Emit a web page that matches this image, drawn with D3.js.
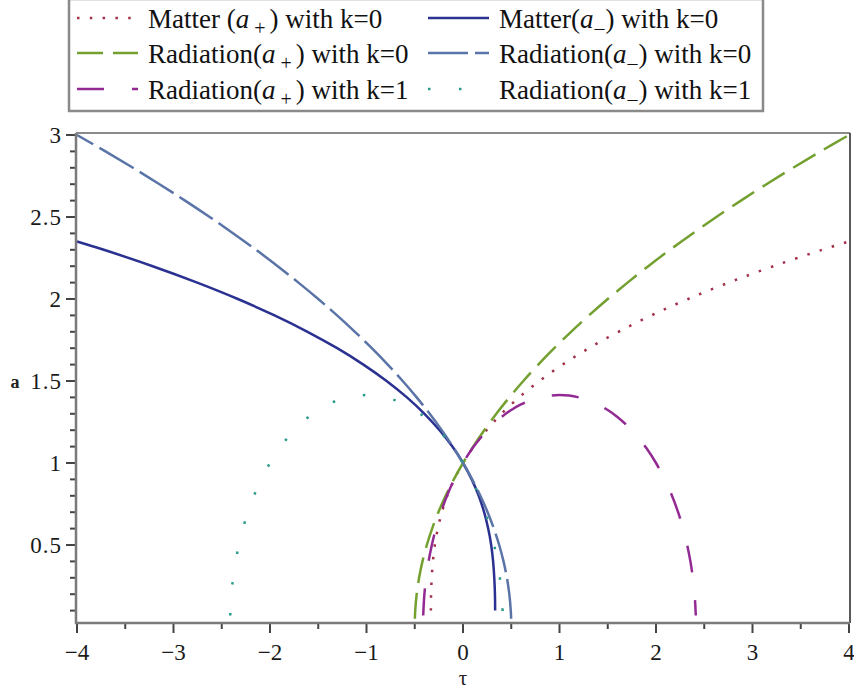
<!DOCTYPE html>
<html lang="en">
<head>
<meta charset="UTF-8">
<title>scale factor a(tau)</title>
<style>
  body { margin: 0; background: #fff; }
  svg { font-family: "Liberation Serif", "DejaVu Serif", serif; }
</style>
</head>
<body>
<svg width="854" height="693"></svg>
<script src="https://d3js.org/d3.v7.min.js"></script>
<script>
// points: [tau, a]
var matterPlus = [[-0.333,0.1],[-0.331,0.2],[-0.324,0.3],[-0.312,0.4],[-0.292,0.5],[-0.261,0.6],[-0.219,0.7],
  [-0.163,0.8],[-0.090,0.9],[0,1],[0.110,1.1],[0.243,1.2],[0.399,1.3],[0.581,1.4],[0.792,1.5],[1.032,1.6],
  [1.304,1.7],[1.611,1.8],[1.953,1.9],[2.333,2.0],[2.754,2.1],[3.216,2.2],[3.722,2.3],[4.0,2.351]];
var matterMinus = [[0.333,0.1],[0.331,0.2],[0.324,0.3],[0.312,0.4],[0.292,0.5],[0.261,0.6],[0.219,0.7],
  [0.163,0.8],[0.090,0.9],[0,1],[-0.110,1.1],[-0.243,1.2],[-0.399,1.3],[-0.581,1.4],[-0.792,1.5],[-1.032,1.6],
  [-1.304,1.7],[-1.611,1.8],[-1.953,1.9],[-2.333,2.0],[-2.754,2.1],[-3.216,2.2],[-3.722,2.3],[-4.0,2.351]];
var radPlusK0 = [[-0.499,0.05],[-0.495,0.1],[-0.48,0.2],[-0.455,0.3],[-0.42,0.4],[-0.375,0.5],[-0.32,0.6],
  [-0.255,0.7],[-0.18,0.8],[-0.095,0.9],[0,1],[0.105,1.1],[0.22,1.2],[0.345,1.3],[0.48,1.4],[0.625,1.5],
  [0.78,1.6],[0.945,1.7],[1.12,1.8],[1.305,1.9],[1.5,2.0],[1.705,2.1],[1.92,2.2],[2.145,2.3],[2.38,2.4],
  [2.625,2.5],[2.88,2.6],[3.145,2.7],[3.42,2.8],[3.705,2.9],[4.0,3.0]];
var radMinusK0 = [[0.499,0.05],[0.495,0.1],[0.48,0.2],[0.455,0.3],[0.42,0.4],[0.375,0.5],[0.32,0.6],
  [0.255,0.7],[0.18,0.8],[0.095,0.9],[0,1],[-0.105,1.1],[-0.22,1.2],[-0.345,1.3],[-0.48,1.4],[-0.625,1.5],
  [-0.78,1.6],[-0.945,1.7],[-1.12,1.8],[-1.305,1.9],[-1.5,2.0],[-1.705,2.1],[-1.92,2.2],[-2.145,2.3],[-2.38,2.4],
  [-2.625,2.5],[-2.88,2.6],[-3.145,2.7],[-3.42,2.8],[-3.705,2.9],[-4.0,3.0]];
var radPlusK1 = [[-0.4125,0.07],[-0.4,0.2],[-0.382,0.3],[-0.3565,0.4],[-0.323,0.5],[-0.281,0.6],[-0.229,0.7],
  [-0.166,0.8],[-0.1,0.889],[0,1],[0.1,1.091],[0.2,1.166],[0.3,1.229],[0.4,1.281],[0.5,1.323],[0.6,1.357],
  [0.7,1.382],[0.8,1.4],[0.9,1.411],[1.0,1.414],[1.1,1.411],[1.2,1.4],[1.3,1.382],[1.4,1.357],[1.5,1.323],
  [1.6,1.281],[1.7,1.229],[1.8,1.166],[1.9,1.091],[2.0,1.0],[2.1,0.889],[2.166,0.8],[2.229,0.7],[2.281,0.6],
  [2.323,0.5],[2.3565,0.4],[2.382,0.3],[2.4,0.2],[2.4125,0.07]];
var radMinusK1 = [[-2.4125,0.07],[-2.4,0.2],[-2.382,0.3],[-2.3565,0.4],[-2.323,0.5],[-2.281,0.6],[-2.229,0.7],
  [-2.166,0.8],[-2.1,0.889],[-2.0,1.0],[-1.9,1.091],[-1.8,1.166],[-1.7,1.229],[-1.6,1.281],[-1.5,1.323],
  [-1.4,1.357],[-1.3,1.382],[-1.2,1.4],[-1.1,1.411],[-1.0,1.414],[-0.9,1.411],[-0.8,1.4],[-0.7,1.382],
  [-0.6,1.357],[-0.5,1.323],[-0.4,1.281],[-0.3,1.229],[-0.2,1.166],[-0.1,1.091],[0,1],[0.1,0.889],[0.166,0.8],
  [0.229,0.7],[0.281,0.6],[0.323,0.5],[0.3565,0.4],[0.382,0.3],[0.4,0.2],[0.4125,0.07]];

var xTicks = [-4,-3,-2,-1,0,1,2,3,4];
var yTicks = [0.5,1,1.5,2,2.5,3];

// series: data, legend text parts, colour, dash
var series = [
  {data: matterPlus,  pre: "Matter (", sign: "+", post: ") with k=0", color: "#a3304a", dash: "2.5 10.3", w: 2.5},
  {data: matterMinus, pre: "Matter(",  sign: "-", post: ") with k=0", color: "#2a3190", dash: null, w: 2.5},
  {data: radPlusK0,   pre: "Radiation(", sign: "+", post: ") with k=0", color: "#74a030", dash: "26 10", w: 2.5},
  {data: radMinusK0,  pre: "Radiation(", sign: "-", post: ") with k=0", color: "#5a74a8", dash: "40 7", w: 2.5},
  {data: radPlusK1,   pre: "Radiation(", sign: "+", post: ") with k=1", color: "#932a93", dash: "27 28", w: 2.5},
  {data: radMinusK1,  pre: "Radiation(", sign: "-", post: ") with k=1", color: "#2a9a8c", dash: "2.5 28.5", w: 2.5}
];

var svg = d3.select("svg");
var x = d3.scaleLinear().domain([-4,4]).range([77,849]);
var y = d3.scaleLinear().domain([0,3]).range([627,135]);
var plotTop = 133, plotBottom = 623, plotLeft = 76, plotRight = 850;

svg.append("clipPath").attr("id","clip")
  .append("rect").attr("x",plotLeft).attr("y",plotTop)
  .attr("width",plotRight-plotLeft).attr("height",plotBottom-plotTop);

// frame top / right
svg.append("line").attr("x1",plotLeft).attr("x2",plotRight).attr("y1",plotTop).attr("y2",plotTop)
  .attr("stroke","#8a8a8a").attr("stroke-width",2);
svg.append("line").attr("x1",plotRight).attr("x2",plotRight).attr("y1",plotTop).attr("y2",plotBottom)
  .attr("stroke","#222").attr("stroke-width",1.5);

// curves
var line = d3.line()
  .x(function(d){ return x(d[0]); })
  .y(function(d){ return y(d[1]); })
  .curve(d3.curveCatmullRom);

var curves = svg.append("g").attr("clip-path","url(#clip)");
series.forEach(function(s){
  curves.append("path")
    .attr("d", line(s.data))
    .attr("fill","none")
    .attr("stroke", s.color)
    .attr("stroke-width", s.w)
    .attr("stroke-dasharray", s.dash);
});

// x axis: minor ticks at halves, major at integers
var xMinor = d3.range(-3.5,4,1);
svg.append("g").selectAll("line").data(xMinor).enter().append("line")
  .attr("x1",function(d){return x(d);}).attr("x2",function(d){return x(d);})
  .attr("y1",plotBottom).attr("y2",plotBottom+6)
  .attr("stroke","#444").attr("stroke-width",2);
svg.append("g").selectAll("line").data(xTicks).enter().append("line")
  .attr("x1",function(d){return x(d);}).attr("x2",function(d){return x(d);})
  .attr("y1",plotBottom).attr("y2",plotBottom+10)
  .attr("stroke","#444").attr("stroke-width",2);
svg.append("g").selectAll("text").data(xTicks).enter().append("text")
  .attr("x",function(d){return x(d);}).attr("y",660)
  .attr("text-anchor","middle").attr("font-size",23).attr("fill","#1a1a1a")
  .text(function(d){ return d < 0 ? "\u2212" + Math.abs(d) : d; });

// y axis: minor every 0.1, major every 0.5
var yMinor = d3.range(1,30).map(function(i){ return i/10; }).filter(function(v){ return Math.round(v*10) % 5 != 0; });
svg.append("g").selectAll("line").data(yMinor).enter().append("line")
  .attr("x1",plotLeft-6).attr("x2",plotLeft)
  .attr("y1",function(d){return y(d);}).attr("y2",function(d){return y(d);})
  .attr("stroke","#444").attr("stroke-width",2);
svg.append("g").selectAll("line").data(yTicks).enter().append("line")
  .attr("x1",plotLeft-10).attr("x2",plotLeft)
  .attr("y1",function(d){return y(d);}).attr("y2",function(d){return y(d);})
  .attr("stroke","#444").attr("stroke-width",2);
svg.append("g").selectAll("text").data(yTicks).enter().append("text")
  .attr("x",62).attr("y",function(d){return y(d)+8;})
  .attr("text-anchor","end").attr("font-size",23).attr("letter-spacing",1).attr("fill","#1a1a1a")
  .text(function(d){ return d; });

// axis lines
svg.append("line").attr("x1",plotLeft).attr("x2",plotLeft).attr("y1",plotTop).attr("y2",plotBottom+1)
  .attr("stroke","#7a7a7a").attr("stroke-width",2.5);
svg.append("line").attr("x1",plotLeft-1).attr("x2",plotRight).attr("y1",plotBottom).attr("y2",plotBottom)
  .attr("stroke","#7a7a7a").attr("stroke-width",2.5);

// axis titles
svg.append("text").attr("x",15).attr("y",388).attr("text-anchor","middle")
  .attr("font-size",18).attr("font-weight","bold").attr("fill","#222").text("a");
svg.append("text").attr("x",x(0)).attr("y",685).attr("text-anchor","middle")
  .attr("font-size",21).attr("fill","#222").text("\u03c4");

// legend
var legend = svg.append("g");
legend.append("rect").attr("x",69).attr("y",-1).attr("width",694).attr("height",112)
  .attr("fill","#fff").attr("stroke","#8a8a8a").attr("stroke-width",2.5);

var colX = [77, 428], rowY = [18, 53, 89];
series.forEach(function(s,i){
  var cx = colX[i % 2], cy = rowY[Math.floor(i/2)];
  legend.append("line").attr("x1",cx).attr("x2",cx+61).attr("y1",cy).attr("y2",cy)
    .attr("stroke",s.color).attr("stroke-width",s.w).attr("stroke-dasharray",s.dash);
  var t = legend.append("text").attr("x",cx+71).attr("y",cy+10)
    .attr("font-size",27).attr("fill","#111");
  t.append("tspan").text(s.pre);
  t.append("tspan").attr("font-style","italic").text("a");
  t.append("tspan").attr("font-size",20).attr("dy",7).attr("dx", s.sign == "+" ? 5 : 1)
    .text(s.sign == "+" ? "+" : "\u2012");
  t.append("tspan").attr("dy",-7).attr("dx", s.sign == "+" ? 4 : 1).text(s.post);
});
</script>
</body>
</html>
